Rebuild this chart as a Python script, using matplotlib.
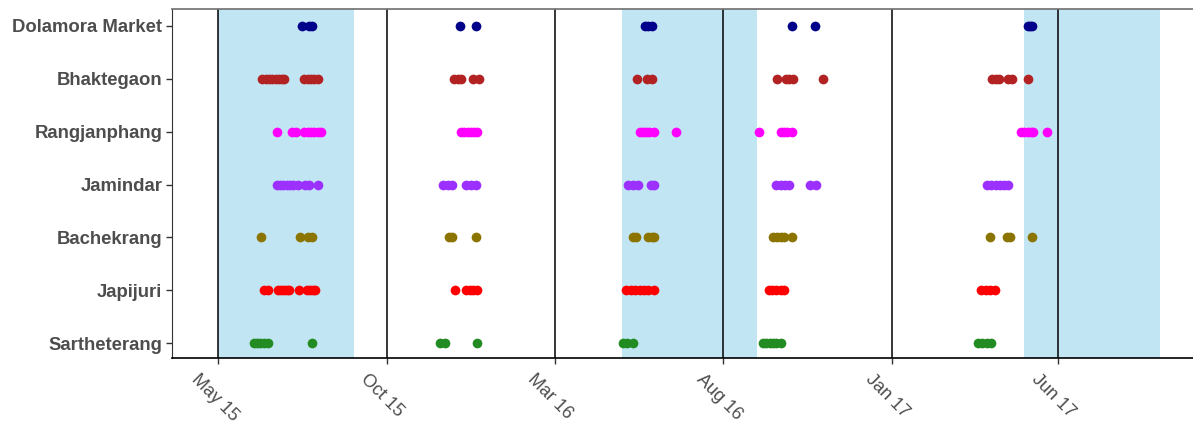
import numpy as np
import pandas as pd
import matplotlib
matplotlib.use("Agg")
import matplotlib.pyplot as plt
import matplotlib.dates as mdates
from matplotlib.transforms import ScaledTranslation

plt.rcParams["font.family"] = ["Liberation Sans", "DejaVu Sans"]

# sites, top to bottom
SITES = ["Dolamora Market", "Bhaktegaon", "Rangjanphang", "Jamindar",
         "Bachekrang", "Japijuri", "Sartheterang"]
COLORS = ["#00008B", "#B22222", "#FF00FF", "#9B30FF",
          "#8B7500", "#FF0000", "#228B22"]

dolamora = ["2015-07-16", "2015-07-22", "2015-07-25", "2015-12-06", "2015-12-21",
            "2016-05-22", "2016-05-25", "2016-05-28", "2016-10-02", "2016-10-23",
            "2017-05-04", "2017-05-06", "2017-05-08"]
bhaktegaon = ["2015-06-10", "2015-06-13", "2015-06-16", "2015-06-19", "2015-06-22",
              "2015-06-25", "2015-06-28", "2015-06-30", "2015-07-18", "2015-07-21",
              "2015-07-24", "2015-07-27", "2015-07-30", "2015-12-01", "2015-12-04",
              "2015-12-07", "2015-12-18", "2015-12-23", "2016-05-15", "2016-05-24",
              "2016-05-28", "2016-09-19", "2016-09-27", "2016-09-30", "2016-10-03",
              "2016-10-30", "2017-04-02", "2017-04-05", "2017-04-08", "2017-04-16",
              "2017-04-20", "2017-05-04"]
rangjanphang = ["2015-06-23", "2015-07-07", "2015-07-10", "2015-07-18", "2015-07-21",
                "2015-07-24", "2015-07-27", "2015-07-30", "2015-08-02", "2015-12-07",
                "2015-12-10", "2015-12-13", "2015-12-16", "2015-12-19", "2015-12-22",
                "2016-05-17", "2016-05-20", "2016-05-23", "2016-05-26", "2016-05-30",
                "2016-06-19", "2016-09-02", "2016-09-22", "2016-09-25", "2016-09-28",
                "2016-10-02", "2017-04-28", "2017-05-01", "2017-05-04", "2017-05-07",
                "2017-05-09", "2017-05-22"]
jamindar = ["2015-06-23", "2015-06-26", "2015-06-29", "2015-07-02", "2015-07-05",
            "2015-07-08", "2015-07-12", "2015-07-19", "2015-07-22", "2015-07-30",
            "2015-11-21", "2015-11-25", "2015-11-29", "2015-12-12", "2015-12-16",
            "2015-12-21", "2016-05-07", "2016-05-11", "2016-05-16", "2016-05-27",
            "2016-05-30", "2016-09-18", "2016-09-22", "2016-09-26", "2016-09-30",
            "2016-10-19", "2016-10-24", "2017-03-28", "2017-04-01", "2017-04-05",
            "2017-04-09", "2017-04-13", "2017-04-16"]
bachekrang = ["2015-06-09", "2015-07-14", "2015-07-21", "2015-07-25", "2015-11-26",
              "2015-11-29", "2015-12-21", "2016-05-11", "2016-05-14", "2016-05-25",
              "2016-05-28", "2016-05-30", "2016-09-15", "2016-09-19", "2016-09-22",
              "2016-09-25", "2016-10-02", "2017-03-31", "2017-04-15", "2017-04-18",
              "2017-05-08"]
japijuri = ["2015-06-11", "2015-06-15", "2015-06-24", "2015-06-27", "2015-06-30",
            "2015-07-02", "2015-07-04", "2015-07-13", "2015-07-20", "2015-07-23",
            "2015-07-26", "2015-07-28", "2015-12-02", "2015-12-12", "2015-12-15",
            "2015-12-18", "2015-12-22", "2016-05-05", "2016-05-09", "2016-05-13",
            "2016-05-17", "2016-05-21", "2016-05-25", "2016-05-30", "2016-09-11",
            "2016-09-14", "2016-09-18", "2016-09-22", "2016-09-25", "2017-03-23",
            "2017-03-27", "2017-03-31", "2017-04-04"]
sartheterang = ["2015-06-02", "2015-06-05", "2015-06-08", "2015-06-11", "2015-06-15",
                "2015-07-25", "2015-11-18", "2015-11-23", "2015-12-22", "2016-05-02",
                "2016-05-06", "2016-05-11", "2016-09-06", "2016-09-09", "2016-09-12",
                "2016-09-15", "2016-09-18", "2016-09-22", "2017-03-20", "2017-03-24",
                "2017-03-28", "2017-04-01"]

SITE_DATES = [dolamora, bhaktegaon, rangjanphang, jamindar, bachekrang, japijuri, sartheterang]

# monsoon periods (shaded)
season_start = ["2015-05-01", "2016-05-01", "2017-05-01"]
season_end = ["2015-09-01", "2016-09-01", "2017-09-01"]

tick_dates = ["2015-05-01", "2015-10-01", "2016-03-01", "2016-08-01", "2017-01-01", "2017-06-01"]
x_range = ["2015-03-20", "2017-10-01"]


def main():
    fig = plt.figure(figsize=(11.93, 4.25), dpi=100)
    ax = fig.add_axes([0.1442, 0.1576, 1.0 - 0.1442, 0.9788 - 0.1576])

    for s, e in zip(season_start, season_end):
        ax.axvspan(pd.Timestamp(s), pd.Timestamp(e), color="#C2E5F3", lw=0, zorder=0)

    ticks = pd.to_datetime(tick_dates)
    for t in ticks:
        ax.axvline(t, color="black", lw=1.1, zorder=1)

    n = len(SITES)
    for i, (dates, col) in enumerate(zip(SITE_DATES, COLORS)):
        d = pd.to_datetime(dates)
        ax.plot(d, np.full(len(d), n - i), "o", color=col, ms=7, mew=0, zorder=3)

    ax.set_xlim(pd.Timestamp(x_range[0]), pd.Timestamp(x_range[1]))
    ax.set_ylim(0.72, n + 0.32)
    ax.set_yticks(np.arange(n, 0, -1))
    ax.set_yticklabels(SITES, fontsize=13.3, fontweight="bold", color="#4D4D4D")

    ax.set_xticks(ticks)
    ax.xaxis.set_major_formatter(mdates.DateFormatter("%b %y"))
    ax.tick_params(axis="x", length=4.3, width=1, color="#333333", pad=5)
    ax.tick_params(axis="y", length=4, width=1, color="#333333", pad=3)
    # rotated labels hang down-right, starting a little left of the tick
    shift = ScaledTranslation(-18 / 100, 0, fig.dpi_scale_trans)
    for lab in ax.get_xticklabels():
        lab.set_rotation(-45)
        lab.set_ha("left")
        lab.set_va("top")
        lab.set_rotation_mode("anchor")
        lab.set_fontsize(13)
        lab.set_color("#4D4D4D")
        lab.set_transform(lab.get_transform() + shift)

    ax.spines["right"].set_visible(False)
    ax.spines["top"].set_color("#6E6E6E")
    ax.spines["top"].set_linewidth(1.2)
    ax.spines["left"].set_color("#333333")
    ax.spines["bottom"].set_color("black")
    ax.spines["bottom"].set_linewidth(1.2)

    fig.savefig("out.png", dpi=100)
    plt.close(fig)


if __name__ == "__main__":
    main()
